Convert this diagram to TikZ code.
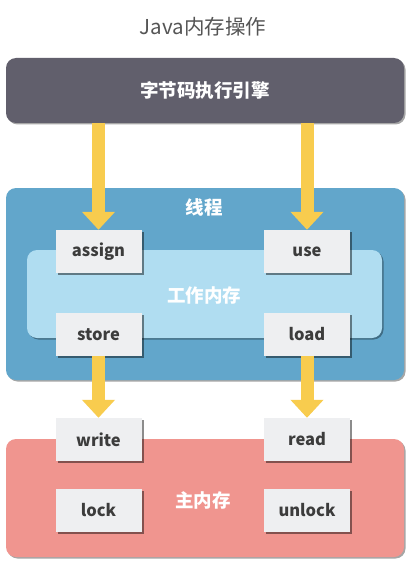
\documentclass[tikz,border=0pt]{standalone}
\usepackage{fontspec}
\setmainfont{Noto Sans CJK SC}
\usetikzlibrary{arrows.meta,shadows}
\definecolor{engc}{HTML}{615F6C}
\definecolor{thrc}{HTML}{62A6CB}
\definecolor{wrkc}{HTML}{B0DDF1}
\definecolor{mainc}{HTML}{F0958F}
\definecolor{boxc}{HTML}{EEEFF1}
\definecolor{txtc}{HTML}{3C3C3C}
\definecolor{titc}{HTML}{555555}
\definecolor{arrc}{HTML}{F8CC4E}
\tikzset{
  bigbox/.style={rounded corners=10pt, inner sep=0pt, draw=none,
    drop shadow={shadow xshift=1.5pt, shadow yshift=-1.5pt, opacity=0.35, fill=black}},
  opbox/.style={fill=boxc, minimum width=86pt, minimum height=43pt, inner sep=0pt,
    text=txtc, font=\bfseries\fontsize{16.5}{19}\selectfont,
    drop shadow={shadow xshift=2pt, shadow yshift=-2pt, opacity=0.45, fill=black}},
  lbl/.style={text=white, font=\bfseries\fontsize{18.5}{22}\selectfont},
  flow/.style={draw=arrc, line width=13pt, -{Triangle[width=32pt,length=18pt]}}
}
\begin{document}
\begin{tikzpicture}[x=1pt,y=-1pt]
\useasboundingbox (0,0) rectangle (412,567);
\fill[white] (0,0) rectangle (412,567);
\node[text=titc, font=\fontsize{20.5}{24}\selectfont] (title) at (203,27) {Java内存操作};
\node[bigbox, fill=engc, minimum width=398pt, minimum height=65pt, lbl] (engine) at (205,90.5) {字节码执行引擎};
\node[bigbox, fill=thrc, minimum width=398pt, minimum height=192pt] (thread) at (205,284) {};
\node[lbl] (threadlbl) at (204,207) {线程};
\node[bigbox, fill=wrkc, minimum width=355pt, minimum height=88pt] (work) at (204.5,294) {};
\node[lbl] (worklbl) at (204,295) {工作内存};
\node[bigbox, fill=mainc, minimum width=398pt, minimum height=118pt] (main) at (205,498) {};
\node[lbl] (mainlbl) at (203,500) {主内存};
\node[opbox] (assign) at (98.5,251.5) {assign};
\node[opbox] (use) at (307,251.5) {use};
\node[opbox] (store) at (98.5,334.5) {store};
\node[opbox] (load) at (307,334.5) {load};
\node[opbox] (write) at (98.5,439.5) {write};
\node[opbox] (read) at (307,439.5) {read};
\node[opbox] (lock) at (98.5,510.5) {lock};
\node[opbox] (unlock) at (307,510.5) {unlock};
\draw[flow] (engine.south -| assign.north) -- (assign.north);
\draw[flow] (engine.south -| use.north) -- (use.north);
\draw[flow] (store.south) -- (write.north);
\draw[flow] (load.south) -- (read.north);
\end{tikzpicture}
\end{document}
